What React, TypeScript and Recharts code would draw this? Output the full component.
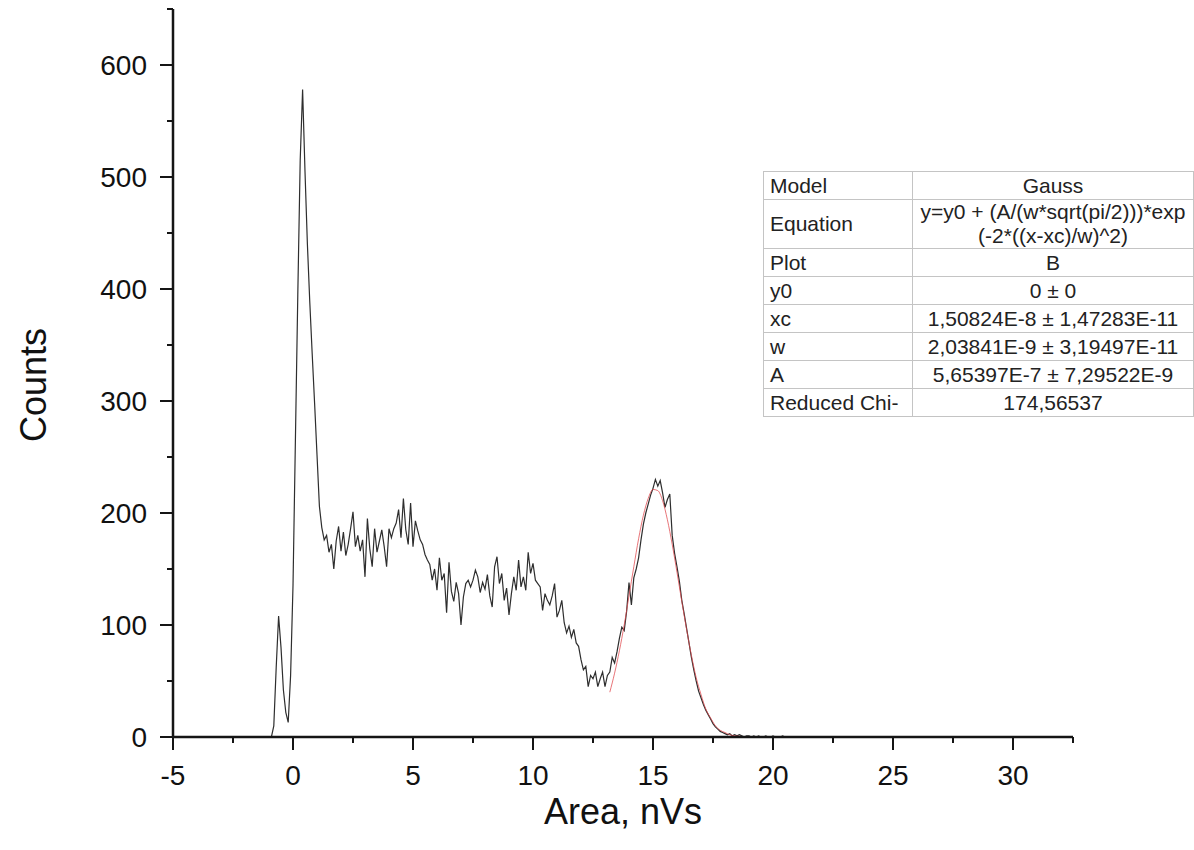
import { LineChart, Line, XAxis, YAxis } from 'recharts';

// histogram bins, 0.1 nVs wide, first bin centre at -0.9 nVs
const BIN_START = -0.9;
const BIN_WIDTH = 0.1;

// -0.9 .. 1.1 : pedestal bump and the big zero peak
const peakCounts = [0, 10, 62, 108, 80, 42, 22, 13, 55, 135, 265, 395, 515, 578, 505, 440, 388, 342, 298, 252, 206];

// 1.2 .. 13.1 : noisy plateau and the valley
const plateauCounts = [
  187, 176, 180, 165, 172, 150, 175, 188, 166, 183,
  162, 172, 186, 201, 170, 180, 166, 176, 143, 195,
  168, 152, 186, 165, 175, 185, 170, 152, 186, 178,
  186, 191, 203, 178, 213, 185, 172, 209, 170, 193,
  184, 176, 172, 163, 158, 154, 140, 150, 131, 160,
  140, 146, 111, 156, 130, 121, 138, 128, 100, 125,
  137, 140, 134, 140, 149, 143, 129, 138, 132, 145,
  126, 116, 152, 161, 137, 146, 122, 133, 109, 128,
  143, 131, 158, 134, 143, 131, 165, 146, 155, 140,
  137, 134, 113, 128, 122, 118, 126, 137, 107, 113,
  122, 102, 93, 99, 89, 96, 84, 81, 69, 60,
  63, 45, 55, 52, 58, 45, 52, 58, 45, 55,
];

// 13.2 .. 18.0 : the fitted peak
const gaussCounts = [
  58, 71, 66, 76, 88, 98, 95, 112, 138, 118,
  142, 150, 160, 176, 190, 200, 208, 216, 222, 230,
  224, 229, 218, 205, 212, 217, 180, 164, 152, 139,
  122, 110, 97, 84, 71, 60, 50, 41, 35, 29,
  24, 20, 16, 12, 9, 7, 5, 4, 3,
];

// 18.1 .. 21.0 : tail
const tailCounts = [
  2, 3, 1, 2, 1, 2, 1, 0, 1, 1,
  0, 1, 0, 1, 0, 0, 1, 0, 0, 1,
  0, 0, 0, 1, 0, 0, 0, 0, 0, 0,
];

// Gauss fit curve, 13.2 .. 19.0 step 0.2
const FIT_START = 13.2;
const FIT_STEP = 0.2;
const fitCounts = [
  40, 57, 77, 100, 126, 152, 177, 198, 213, 221,
  220, 211, 194, 172, 147, 121, 96, 73, 53, 38,
  25, 17, 10, 6, 4, 2, 1, 0.6, 0.3, 0.1,
];

const xTicks = [-5, -2.5, 0, 2.5, 5, 7.5, 10, 12.5, 15, 17.5, 20, 22.5, 25, 27.5, 30, 32.5];
const yTicks = [0, 50, 100, 150, 200, 250, 300, 350, 400, 450, 500, 550, 600, 650];

const fitTable = [
  ['Model', 'Gauss'],
  ['Equation', 'y=y0 + (A/(w*sqrt(pi/2)))*exp\n(-2*((x-xc)/w)^2)'],
  ['Plot', 'B'],
  ['y0', '0 ± 0'],
  ['xc', '1,50824E-8 ± 1,47283E-11'],
  ['w', '2,03841E-9 ± 3,19497E-11'],
  ['A', '5,65397E-7 ± 7,29522E-9'],
  ['Reduced Chi-', '174,56537'],
];

const FONT = '"Liberation Sans", Arial, sans-serif';
const AXIS = '#151515';

const histData = [...peakCounts, ...plateauCounts, ...gaussCounts, ...tailCounts].map((y, i) => ({
  x: Math.round((BIN_START + i * BIN_WIDTH) * 10) / 10,
  y,
}));

const fitData = fitCounts.map((y, i) => ({
  x: Math.round((FIT_START + i * FIT_STEP) * 10) / 10,
  y,
}));

const XTick = ({ x, y, payload }: any) => {
  const major = payload.value % 5 === 0;
  return (
    <g>
      <line x1={x} y1={y} x2={x} y2={y + (major ? 13 : 6)} stroke={AXIS} strokeWidth={2} />
      {major && (
        <text x={x} y={y + 48} textAnchor="middle" fontSize={28} fontFamily={FONT} fill="#111">
          {payload.value}
        </text>
      )}
    </g>
  );
};

const YTick = ({ x, y, payload }: any) => {
  const major = payload.value % 100 === 0;
  return (
    <g>
      <line x1={x} y1={y} x2={x - (major ? 13 : 6)} y2={y} stroke={AXIS} strokeWidth={2} />
      {major && (
        <text x={x - 26} y={y + 10} textAnchor="end" fontSize={28} fontFamily={FONT} fill="#111">
          {payload.value}
        </text>
      )}
    </g>
  );
};

const XTitle = () => (
  <text x={623} y={824} textAnchor="middle" fontSize={36} fontFamily={FONT} fill="#111">
    Area, nVs
  </text>
);

const YTitle = () => (
  <text transform="translate(46,385) rotate(-90)" textAnchor="middle" fontSize={36} fontFamily={FONT} fill="#111">
    Counts
  </text>
);

const cell: React.CSSProperties = {
  border: '1px solid #c4c4c4',
  padding: '0 6px',
  height: 27,
  whiteSpace: 'pre',
};

export default function App() {
  return (
    <div style={{ position: 'absolute', left: 0, top: 0, width: 1194, height: 850, overflow: 'hidden', background: '#fff' }}>
      <LineChart width={1194} height={850} margin={{ top: 9, right: 121, bottom: 0, left: 0 }}>
        <XAxis
          type="number"
          dataKey="x"
          domain={[-5, 32.5]}
          ticks={xTicks}
          interval={0}
          allowDataOverflow
          height={113}
          tickSize={0}
          tickMargin={0}
          tickLine={false}
          tick={<XTick />}
          axisLine={{ stroke: AXIS, strokeWidth: 2.5 }}
          label={<XTitle />}
        />
        <YAxis
          type="number"
          domain={[0, 650]}
          ticks={yTicks}
          interval={0}
          allowDataOverflow
          width={173}
          tickSize={0}
          tickMargin={0}
          tickLine={false}
          tick={<YTick />}
          axisLine={{ stroke: AXIS, strokeWidth: 2.5 }}
          label={<YTitle />}
        />
        <Line
          data={histData}
          dataKey="y"
          type="linear"
          stroke="#2e2e2e"
          strokeWidth={1.2}
          dot={false}
          isAnimationActive={false}
        />
        <Line
          data={fitData}
          dataKey="y"
          type="monotone"
          stroke="#e0474c"
          strokeOpacity={0.75}
          strokeWidth={1}
          dot={false}
          isAnimationActive={false}
        />
      </LineChart>
      <table
        style={{
          position: 'absolute',
          left: 763,
          top: 171,
          borderCollapse: 'collapse',
          fontFamily: FONT,
          fontSize: 21,
          color: '#222',
          background: '#fff',
          lineHeight: '24px',
        }}
      >
        <tbody>
          {fitTable.map(([name, value]) => (
            <tr key={name}>
              <td style={{ ...cell, width: 136, textAlign: 'left' }}>{name}</td>
              <td style={{ ...cell, width: 268, textAlign: 'center' }}>{value}</td>
            </tr>
          ))}
        </tbody>
      </table>
    </div>
  );
}
